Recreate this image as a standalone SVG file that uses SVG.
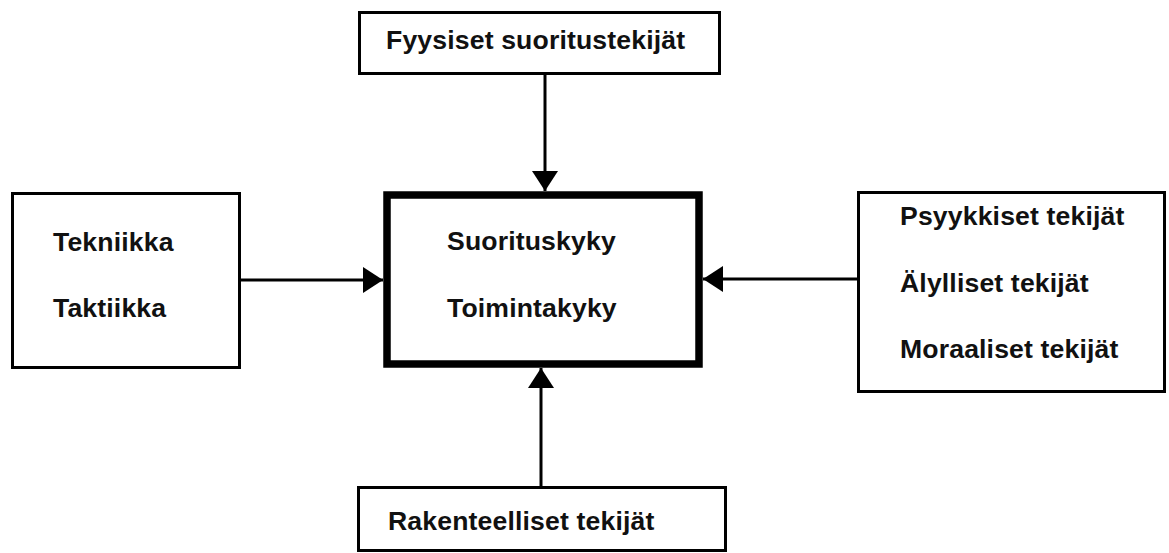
<svg xmlns="http://www.w3.org/2000/svg" width="1169" height="553" viewBox="0 0 1169 553">
  <defs>
    <marker id="arrow" viewBox="0 0 20 26" refX="20" refY="13" markerWidth="20" markerHeight="26" markerUnits="userSpaceOnUse" orient="auto">
      <path d="M0,0 L20,13 L0,26 Z" fill="#000"/>
    </marker>
  </defs>
  <style>
    .box { fill: #fff; stroke: #000; stroke-width: 3; }
    .main { fill: #fff; stroke: #000; stroke-width: 7.5; }
    .label { font-family: "Liberation Sans", Arial, sans-serif; font-weight: bold; font-size: 26.6px; letter-spacing: 0.15px; fill: #111; }
    .link { stroke: #000; stroke-width: 3; fill: none; marker-end: url(#arrow); }
  </style>
  <rect width="1169" height="553" fill="#fff"/>

  <g id="connectors">
    <line class="link" x1="545" y1="73" x2="545" y2="191"/>
    <line class="link" x1="240" y1="280" x2="383" y2="280"/>
    <line class="link" x1="858" y1="279" x2="703" y2="279"/>
    <line class="link" x1="541" y1="487" x2="541" y2="368"/>
  </g>

  <g id="node-fyysiset">
    <rect class="box" x="359.5" y="12.5" width="360" height="61"/>
    <text class="label" x="386" y="49">Fyysiset suoritustekijät</text>
  </g>

  <g id="node-suorituskyky">
    <rect class="main" x="387" y="195" width="312" height="169"/>
    <text class="label" x="447" y="250">Suorituskyky</text>
    <text class="label" x="447" y="317">Toimintakyky</text>
  </g>

  <g id="node-tekniikka">
    <rect class="box" x="12.5" y="193.5" width="227" height="174"/>
    <text class="label" x="53" y="251">Tekniikka</text>
    <text class="label" x="53" y="317">Taktiikka</text>
  </g>

  <g id="node-psyykkiset">
    <rect class="box" x="858.5" y="192.5" width="306" height="199"/>
    <text class="label" x="900" y="225">Psyykkiset tekijät</text>
    <text class="label" x="900" y="292">Älylliset tekijät</text>
    <text class="label" x="900" y="358">Moraaliset tekijät</text>
  </g>

  <g id="node-rakenteelliset">
    <rect class="box" x="358.5" y="487.5" width="367" height="63"/>
    <text class="label" x="388" y="530">Rakenteelliset tekijät</text>
  </g>
</svg>
